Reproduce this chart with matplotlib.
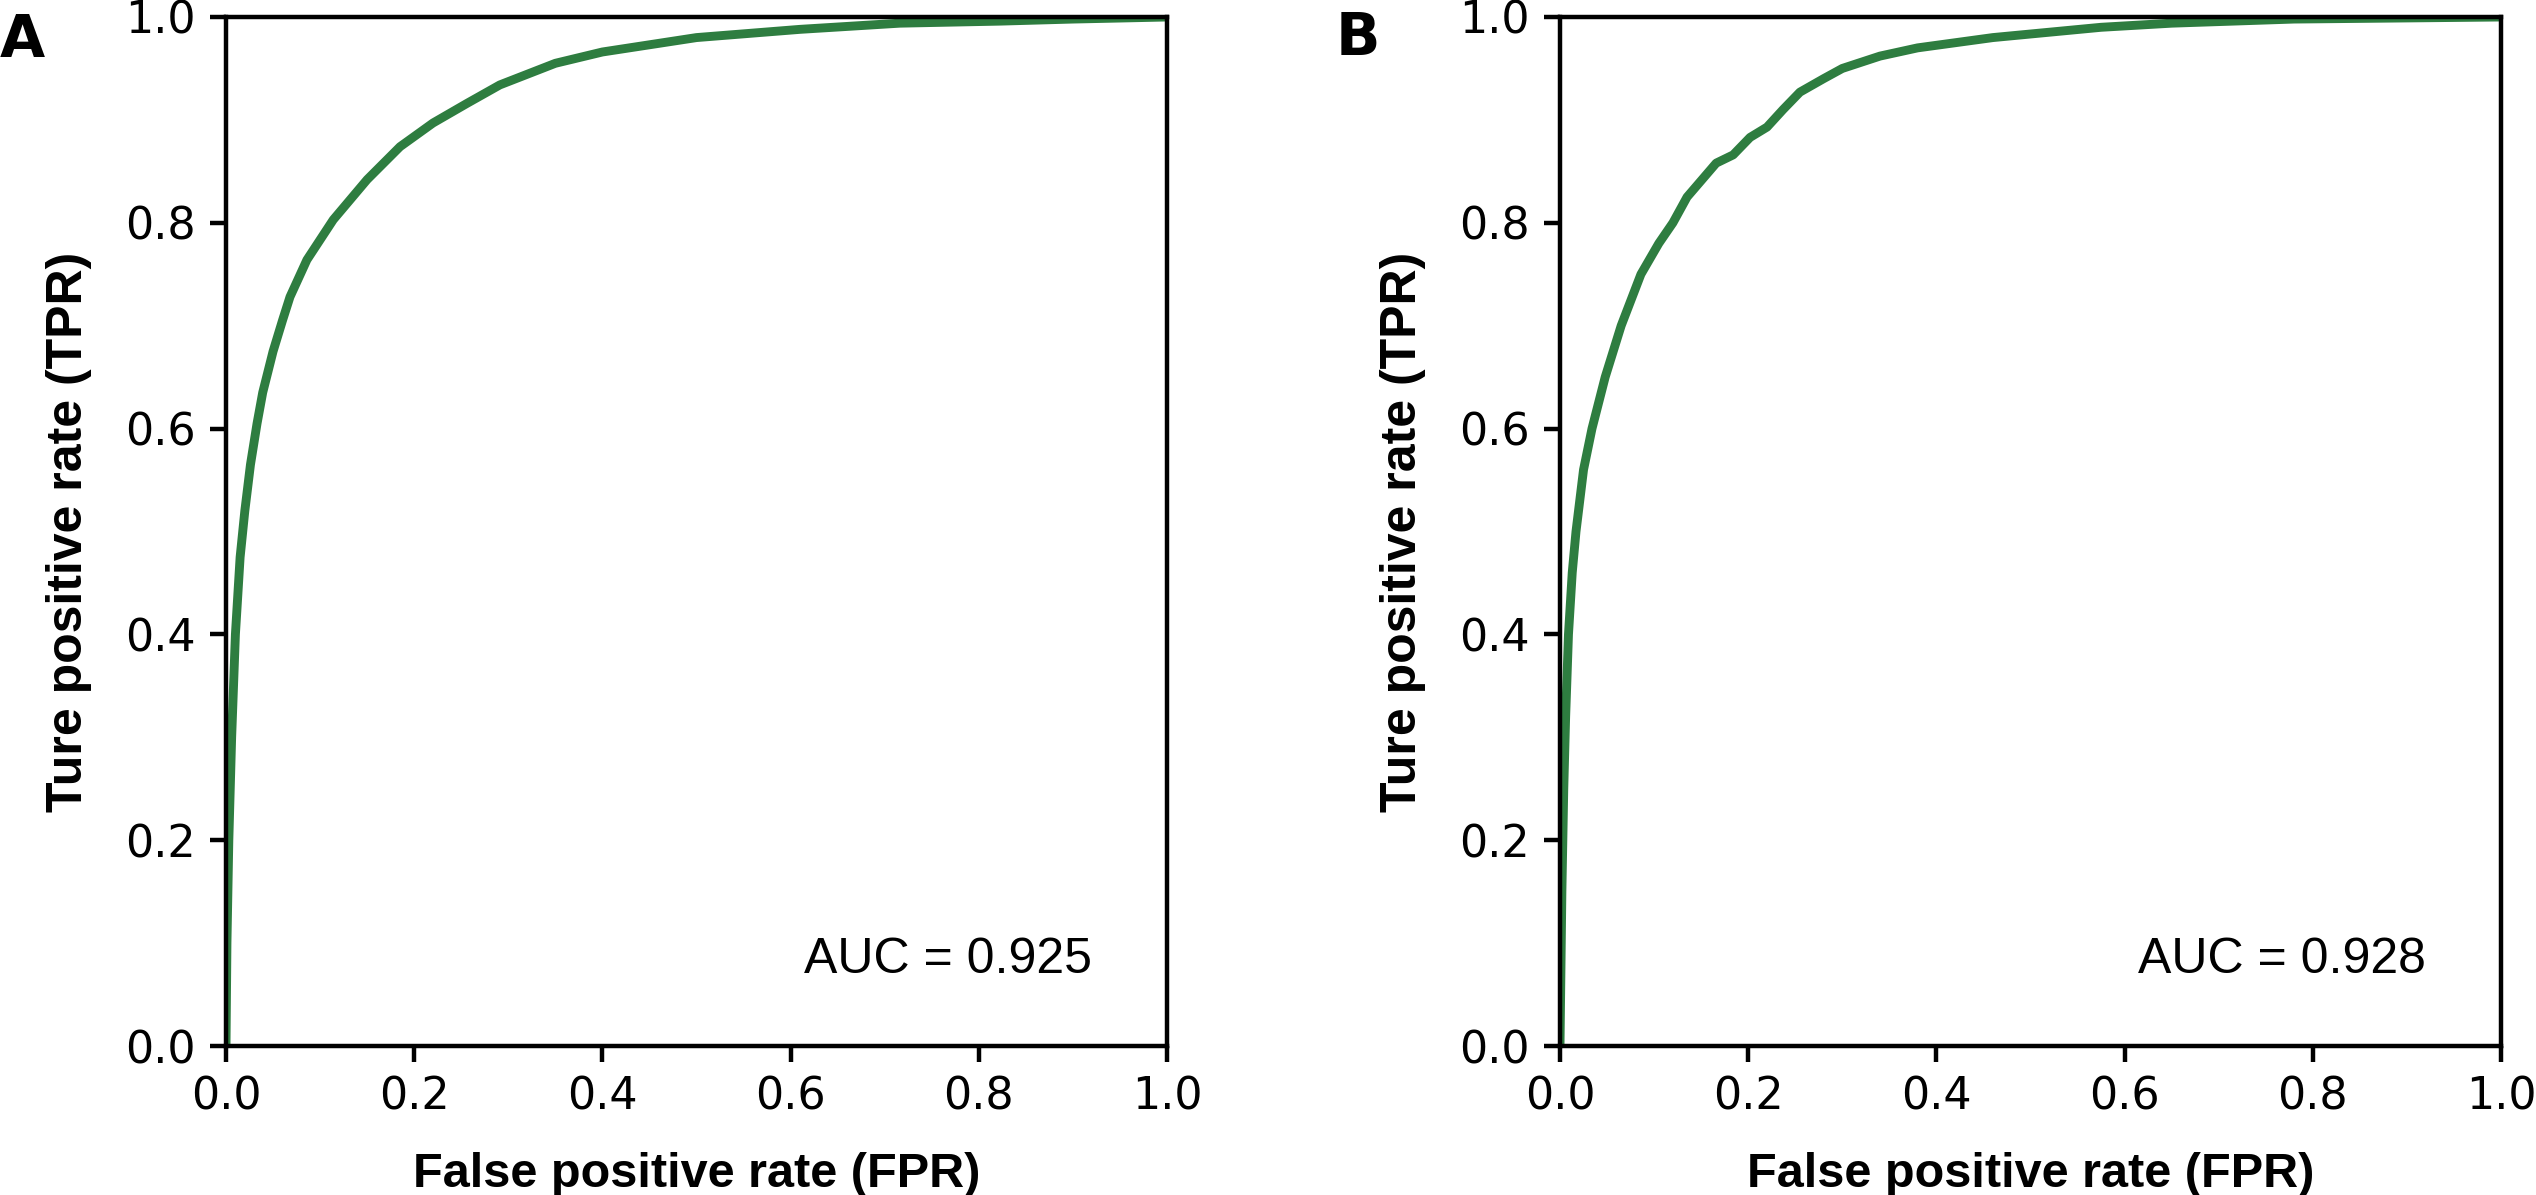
import matplotlib
matplotlib.use("Agg")
import matplotlib.pyplot as plt

# ---- data ----
fpr_a = [0, 0.001, 0.003, 0.006, 0.010, 0.015, 0.020, 0.026, 0.033, 0.039, 0.050,
         0.060, 0.068, 0.086, 0.114, 0.150, 0.185, 0.220, 0.256, 0.291, 0.35, 0.40,
         0.50, 0.61, 0.716, 0.823, 0.90, 1.0]
tpr_a = [0, 0.10, 0.20, 0.30, 0.40, 0.475, 0.52, 0.565, 0.605, 0.635, 0.675,
         0.705, 0.728, 0.764, 0.803, 0.842, 0.874, 0.897, 0.916, 0.934, 0.955, 0.966,
         0.980, 0.988, 0.994, 0.996, 0.998, 1.0]

fpr_b = [0, 0.002, 0.004, 0.006, 0.009, 0.013, 0.017, 0.025, 0.034, 0.048, 0.065,
         0.086, 0.105, 0.12, 0.135, 0.166, 0.184, 0.202, 0.220, 0.237, 0.255, 0.28,
         0.30, 0.34, 0.38, 0.46, 0.575, 0.65, 0.78, 1.0]
tpr_b = [0, 0.15, 0.25, 0.32, 0.40, 0.46, 0.50, 0.56, 0.60, 0.65, 0.70,
         0.75, 0.78, 0.80, 0.825, 0.858, 0.866, 0.883, 0.893, 0.91, 0.927, 0.94,
         0.95, 0.962, 0.97, 0.98, 0.99, 0.994, 0.998, 1.0]

auc_labels = ["AUC = 0.925", "AUC = 0.928"]
panel_labels = ["A", "B"]
ticks = [0.0, 0.2, 0.4, 0.6, 0.8, 1.0]
xlabel = "False positive rate (FPR)"
ylabel = "Ture positive rate (TPR)"

# ---- figure ----
W, H = 2536, 1195
fig = plt.figure(figsize=(W / 200, H / 200), dpi=200)

line_color = "#2E7D40"
lefts = [226, 1560]
ax_w, ax_top, ax_bot = 941, 17, 1046

for i, (fx, ty) in enumerate([(fpr_a, tpr_a), (fpr_b, tpr_b)]):
    ax = fig.add_axes([lefts[i] / W, (H - ax_bot) / H, ax_w / W, (ax_bot - ax_top) / H])
    ax.plot(fx, ty, color=line_color, lw=3.2, solid_joinstyle="round")
    ax.set_xlim(0, 1)
    ax.set_ylim(0, 1)
    ax.set_xticks(ticks)
    ax.set_yticks(ticks)
    ax.set_xticklabels([f"{t:.1f}" for t in ticks])
    ax.set_yticklabels([f"{t:.1f}" for t in ticks])
    for sp in ax.spines.values():
        sp.set_linewidth(1.6)
    ax.tick_params(width=1.6, length=5.8, labelsize=16, pad=5)
    for lab in ax.get_xticklabels() + ax.get_yticklabels():
        lab.set_fontfamily("DejaVu Sans")
    ax.set_xlabel(xlabel, fontsize=17.5, fontweight="bold",
                  family="Liberation Sans", labelpad=12)
    ax.set_ylabel(ylabel, fontsize=18, fontweight="bold",
                  family="Liberation Sans", labelpad=12)
    ax.text(0.92, 0.071, auc_labels[i], transform=ax.transAxes, ha="right",
            va="baseline", fontsize=18, family="Liberation Sans")

fig.text(0 / W, 1 - 12 / H, panel_labels[0], fontsize=21, fontweight="bold",
         family="DejaVu Sans", ha="left", va="top")
fig.text(1336 / W, 1 - 10 / H, panel_labels[1], fontsize=21, fontweight="bold",
         family="DejaVu Sans", ha="left", va="top")

fig.savefig("out.png", dpi=200)
